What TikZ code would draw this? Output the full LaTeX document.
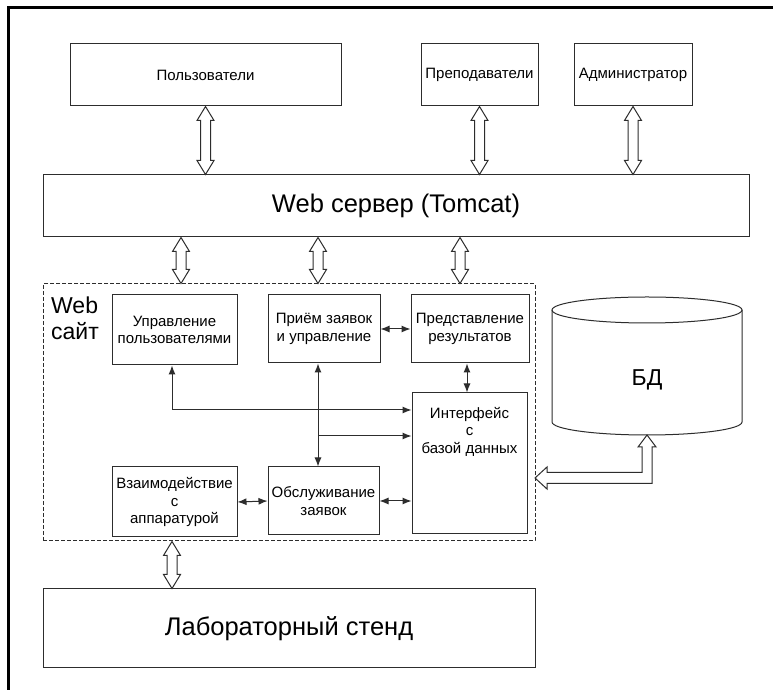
\documentclass[tikz,border=0pt]{standalone}
\usepackage{fontspec}
\setmainfont{Liberation Sans}
\usetikzlibrary{arrows.meta,calc}
\definecolor{linec}{RGB}{45,45,45}
\newcommand{\vdarrow}[2]{%
  \path[dblarr] let \p1=(#1), \p2=(#2) in
    (\x1,\y1) -- ({\x1+8.5pt},{\y1-14pt}) -- ({\x1+5pt},{\y1-14pt})
    -- ({\x1+5pt},{\y2+14pt}) -- ({\x1+8.5pt},{\y2+14pt}) -- (\x1,\y2)
    -- ({\x1-8.5pt},{\y2+14pt}) -- ({\x1-5pt},{\y2+14pt})
    -- ({\x1-5pt},{\y1-14pt}) -- ({\x1-8.5pt},{\y1-14pt}) -- cycle;}
\begin{document}
\begin{tikzpicture}[x=1pt,y=1pt,
  box/.style={draw=linec, line width=1pt, inner sep=1pt, align=center,
    font=\fontsize{15}{17.5}\selectfont},
  bigtext/.style={font=\fontsize{25.5}{29}\selectfont},
  dblarr/.style={draw=linec, line width=1pt, fill=white, line join=miter},
  conn/.style={draw=linec, line width=1pt,
    {Latex[length=9pt,width=7pt]}-{Latex[length=9pt,width=7pt]}},
  conn1/.style={draw=linec, line width=1pt, -{Latex[length=9pt,width=7pt]}},
  frame/.style={draw=black, line width=3pt}
]
\useasboundingbox (0,0) rectangle (773,690);
\fill[white] (0,0) rectangle (773,690);
% outer frame
\coordinate (f1) at (8,0);
\coordinate (f2) at (8,682);
\coordinate (f3) at (773,682);
\draw[frame] (f1) -- (f2) -- (f3);

% top boxes
\node[box, minimum width=271, minimum height=62] (users) at (205.5,615) {Пользователи};
\node[box, minimum width=117, minimum height=62] (teach) at (479.5,615) {Преподаватели};
\node[box, minimum width=118, minimum height=62] (admin) at (633,615) {Администратор};

% web server
\node[box, bigtext, minimum width=706, minimum height=62] (web) at (396,484) {Web сервер (Tomcat)};

% web site dashed box
\node[draw=linec, line width=1pt, dash pattern=on 4pt off 2pt,
  minimum width=492, minimum height=257, inner sep=0] (site) at (289,277.5) {};
\node[anchor=north west, align=left, inner sep=0,
  font=\fontsize{23}{26}\selectfont] (sitelbl) at (51,393) {Web\\сайт};

% inner boxes
\node[box, minimum width=125, minimum height=70] (upr) at (174.5,360) {Управление\\пользователями};
\node[box, minimum width=112, minimum height=68] (priem) at (324,361) {Приём заявок\\и управление};
\node[box, minimum width=118, minimum height=68] (pred) at (470,361) {Представление\\результатов};
\node[box, minimum width=115, minimum height=141] (intf) at (469.5,226.5) {};
\node[align=center, anchor=north, inner sep=0, font=\fontsize{15}{17.5}\selectfont]
  (intftxt) at (469.5,283) {Интерфейс\\с\\базой данных};
\node[box, minimum width=125, minimum height=70] (vzaim) at (174.5,188) {Взаимодействие\\с\\аппаратурой};
\node[box, minimum width=111, minimum height=68] (obsl) at (323.5,189) {Обслуживание\\заявок};

% lab stand
\node[box, bigtext, minimum width=492, minimum height=79] (lab) at (289,61.5) {Лабораторный стенд};

% database cylinder
\draw[draw=linec, line width=1pt, fill=white]
  (552,380) -- (552,268) arc (180:360:95 and 13) -- (742,380);
\draw[draw=linec, line width=1pt] (647,380) ellipse (95 and 13);
\node[font=\fontsize{23}{26}\selectfont] (db) at (647,310) {БД};
\coordinate (dbb) at (647,255);
\coordinate (dbl) at (535,212);

% double arrows
\vdarrow{users.south}{users.south |- web.north}
\vdarrow{teach.south}{teach.south |- web.north}
\vdarrow{admin.south}{admin.south |- web.north}
\coordinate (a1) at (181,0);
\coordinate (a2) at (318,0);
\coordinate (a3) at (460,0);
\coordinate (a4) at (172,0);
\vdarrow{web.south -| a1}{site.north -| a1}
\vdarrow{web.south -| a2}{site.north -| a2}
\vdarrow{web.south -| a3}{site.north -| a3}
\vdarrow{site.south -| a4}{lab.north -| a4}

\path[dblarr] let \p1=(dbl), \p2=(dbb) in
  (\x1,\y1) -- ({\x1+12pt},{\y1+11pt}) -- ({\x1+12pt},{\y1+5.5pt})
  -- ({\x2-5pt},{\y1+5.5pt}) -- ({\x2-5pt},{\y2-12pt}) -- ({\x2-9pt},{\y2-12pt})
  -- (\x2,\y2) -- ({\x2+9pt},{\y2-12pt}) -- ({\x2+5pt},{\y2-12pt})
  -- ({\x2+5pt},{\y1-5.5pt}) -- ({\x1+12pt},{\y1-5.5pt}) -- ({\x1+12pt},{\y1-11pt}) -- cycle;

% small connectors
\coordinate (xu) at (172,0);
\coordinate (yu) at (0,280);
\coordinate (xv) at (318,0);
\coordinate (yb) at (0,254);
\coordinate (xp) at (467,0);
\draw[conn] (upr.south -| xu) |- (intf.west |- yu);
\draw[conn] (priem.south -| xv) -- (obsl.north -| xv);
\draw[conn1] (xv |- yb) -- (intf.west |- yb);
\draw[conn] (priem.east) -- (pred.west);
\draw[conn] (pred.south -| xp) -- (intf.north -| xp);
\draw[conn] (vzaim.east) -- (obsl.west);
\draw[conn] (obsl.east) -- (intf.west |- obsl.east);
\end{tikzpicture}
\end{document}
